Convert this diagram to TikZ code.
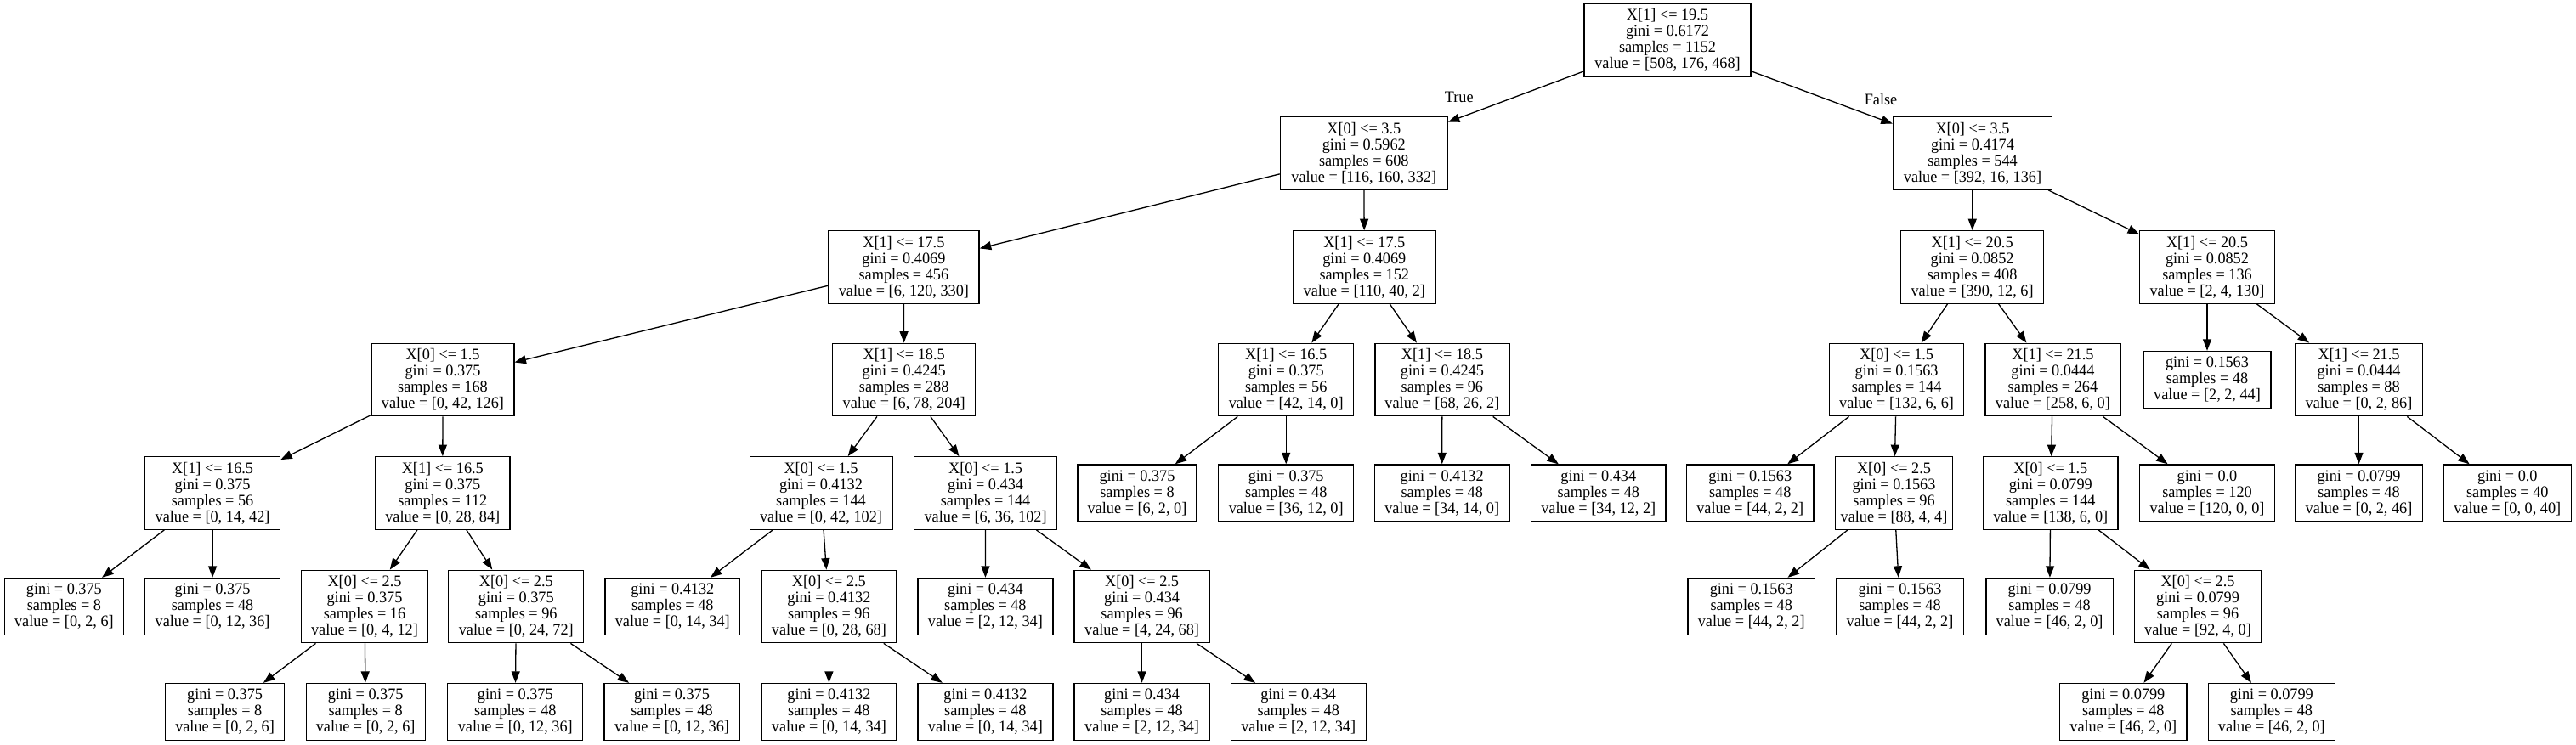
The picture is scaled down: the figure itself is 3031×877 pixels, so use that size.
\documentclass[tikz,border=0pt]{standalone}
\usepackage{fontspec}
\setmainfont{Liberation Serif}[FakeStretch=0.96]
\usetikzlibrary{arrows.meta}
\tikzset{
  tn/.style={draw=black, line width=1.3pt, rectangle, inner sep=0pt, align=center,
    minimum height=85.5pt, font=\fontsize{19}{19}\selectfont},
  lf/.style={tn, minimum height=67pt},
  conn/.style={-{Triangle[length=13.5pt,width=10pt]}, line width=1.3pt},
  lbl/.style={inner sep=0pt, font=\fontsize{19}{19}\selectfont}
}
\begin{document}
\begin{tikzpicture}[x=1pt,y=-1pt]
\useasboundingbox[fill=white] (0,0) rectangle (3031,877);
% row 0
\node[tn, minimum width=196pt] (root) at (1962,47.3) {X[1] <= 19.5\\gini = 0.6172\\samples = 1152\\value = [508, 176, 468]};
% row 1
\node[tn, minimum width=196.8pt] (A) at (1604.8,180.5) {X[0] <= 3.5\\gini = 0.5962\\samples = 608\\value = [116, 160, 332]};
\node[tn, minimum width=187pt] (B) at (2321,180.5) {X[0] <= 3.5\\gini = 0.4174\\samples = 544\\value = [392, 16, 136]};
% row 2
\node[tn, minimum width=177.4pt] (C) at (1063.4,314.5) {X[1] <= 17.5\\gini = 0.4069\\samples = 456\\value = [6, 120, 330]};
\node[tn, minimum width=167.7pt] (D) at (1605.3,314.5) {X[1] <= 17.5\\gini = 0.4069\\samples = 152\\value = [110, 40, 2]};
\node[tn, minimum width=168.4pt] (E) at (2320.6,314.5) {X[1] <= 20.5\\gini = 0.0852\\samples = 408\\value = [390, 12, 6]};
\node[tn, minimum width=158.5pt] (F) at (2597,314.5) {X[1] <= 20.5\\gini = 0.0852\\samples = 136\\value = [2, 4, 130]};
% row 3
\node[tn, minimum width=167.7pt] (G) at (521,447) {X[0] <= 1.5\\gini = 0.375\\samples = 168\\value = [0, 42, 126]};
\node[tn, minimum width=168pt] (H) at (1063.7,447) {X[1] <= 18.5\\gini = 0.4245\\samples = 288\\value = [6, 78, 204]};
\node[tn, minimum width=159pt] (I) at (1513.2,447) {X[1] <= 16.5\\gini = 0.375\\samples = 56\\value = [42, 14, 0]};
\node[tn, minimum width=158pt] (J) at (1696.9,447) {X[1] <= 18.5\\gini = 0.4245\\samples = 96\\value = [68, 26, 2]};
\node[tn, minimum width=158.2pt] (K) at (2231.6,447) {X[0] <= 1.5\\gini = 0.1563\\samples = 144\\value = [132, 6, 6]};
\node[tn, minimum width=159pt] (L) at (2415.4,447) {X[1] <= 21.5\\gini = 0.0444\\samples = 264\\value = [258, 6, 0]};
\node[lf, minimum width=149.7pt] (M) at (2597,447) {gini = 0.1563\\samples = 48\\value = [2, 2, 44]};
\node[tn, minimum width=149.3pt] (N) at (2775.5,447) {X[1] <= 21.5\\gini = 0.0444\\samples = 88\\value = [0, 2, 86]};
% row 4
\node[tn, minimum width=159pt] (O) at (250.1,580.5) {X[1] <= 16.5\\gini = 0.375\\samples = 56\\value = [0, 14, 42]};
\node[tn, minimum width=158.5pt] (P) at (520.8,580.5) {X[1] <= 16.5\\gini = 0.375\\samples = 112\\value = [0, 28, 84]};
\node[tn, minimum width=167.7pt] (Q) at (966,580.5) {X[0] <= 1.5\\gini = 0.4132\\samples = 144\\value = [0, 42, 102]};
\node[tn, minimum width=168.2pt] (R) at (1159.6,580.5) {X[0] <= 1.5\\gini = 0.434\\samples = 144\\value = [6, 36, 102]};
\node[lf, minimum width=140pt] (S) at (1338,580.5) {gini = 0.375\\samples = 8\\value = [6, 2, 0]};
\node[lf, minimum width=159pt] (T) at (1513.2,580.5) {gini = 0.375\\samples = 48\\value = [36, 12, 0]};
\node[lf, minimum width=158.5pt] (U) at (1696.7,580.5) {gini = 0.4132\\samples = 48\\value = [34, 14, 0]};
\node[lf, minimum width=158.5pt] (V) at (1880.8,580.5) {gini = 0.434\\samples = 48\\value = [34, 12, 2]};
\node[lf, minimum width=149.8pt] (W) at (2059.2,580.5) {gini = 0.1563\\samples = 48\\value = [44, 2, 2]};
\node[tn, minimum width=138.4pt] (Xb) at (2228.5,580.5) {X[0] <= 2.5\\gini = 0.1563\\samples = 96\\value = [88, 4, 4]};
\node[tn, minimum width=158.5pt] (Y) at (2412.8,580.5) {X[0] <= 1.5\\gini = 0.0799\\samples = 144\\value = [138, 6, 0]};
\node[lf, minimum width=158.5pt] (Z) at (2597,580.5) {gini = 0.0\\samples = 120\\value = [120, 0, 0]};
\node[lf, minimum width=149.3pt] (AA) at (2775.5,580.5) {gini = 0.0799\\samples = 48\\value = [0, 2, 46]};
\node[lf, minimum width=149.8pt] (AB) at (2950.3,580.5) {gini = 0.0\\samples = 40\\value = [0, 0, 40]};
% row 5
\node[lf, minimum width=140pt] (l5a) at (75.4,714) {gini = 0.375\\samples = 8\\value = [0, 2, 6]};
\node[lf, minimum width=159pt] (l5b) at (250.1,714) {gini = 0.375\\samples = 48\\value = [0, 12, 36]};
\node[tn, minimum width=149.3pt] (X5c) at (429,714) {X[0] <= 2.5\\gini = 0.375\\samples = 16\\value = [0, 4, 12]};
\node[tn, minimum width=159pt] (X5d) at (607.3,714) {X[0] <= 2.5\\gini = 0.375\\samples = 96\\value = [0, 24, 72]};
\node[lf, minimum width=158.5pt] (l5e) at (791.3,714) {gini = 0.4132\\samples = 48\\value = [0, 14, 34]};
\node[tn, minimum width=158.5pt] (X5f) at (975.4,714) {X[0] <= 2.5\\gini = 0.4132\\samples = 96\\value = [0, 28, 68]};
\node[lf, minimum width=159pt] (l5g) at (1159.4,714) {gini = 0.434\\samples = 48\\value = [2, 12, 34]};
\node[tn, minimum width=159pt] (X5h) at (1343.6,714) {X[0] <= 2.5\\gini = 0.434\\samples = 96\\value = [4, 24, 68]};
\node[lf, minimum width=149.7pt] (l5i) at (2060.7,714) {gini = 0.1563\\samples = 48\\value = [44, 2, 2]};
\node[lf, minimum width=150.4pt] (l5j) at (2235.5,714) {gini = 0.1563\\samples = 48\\value = [44, 2, 2]};
\node[lf, minimum width=149.3pt] (l5k) at (2411.6,714) {gini = 0.0799\\samples = 48\\value = [46, 2, 0]};
\node[tn, minimum width=149.3pt] (X5l) at (2586,714) {X[0] <= 2.5\\gini = 0.0799\\samples = 96\\value = [92, 4, 0]};
% row 6
\node[lf, minimum width=139.6pt] (l6a) at (264.6,838) {gini = 0.375\\samples = 8\\value = [0, 2, 6]};
\node[lf, minimum width=140pt] (l6b) at (430.2,838) {gini = 0.375\\samples = 8\\value = [0, 2, 6]};
\node[lf, minimum width=159pt] (l6c) at (606.3,838) {gini = 0.375\\samples = 48\\value = [0, 12, 36]};
\node[lf, minimum width=159pt] (l6d) at (790.5,838) {gini = 0.375\\samples = 48\\value = [0, 12, 36]};
\node[lf, minimum width=158.5pt] (l6e) at (975.4,838) {gini = 0.4132\\samples = 48\\value = [0, 14, 34]};
\node[lf, minimum width=159pt] (l6f) at (1159.4,838) {gini = 0.4132\\samples = 48\\value = [0, 14, 34]};
\node[lf, minimum width=159pt] (l6g) at (1343.6,838) {gini = 0.434\\samples = 48\\value = [2, 12, 34]};
\node[lf, minimum width=159pt] (l6h) at (1527.7,838) {gini = 0.434\\samples = 48\\value = [2, 12, 34]};
\node[lf, minimum width=149.3pt] (l6i) at (2498.3,838) {gini = 0.0799\\samples = 48\\value = [46, 2, 0]};
\node[lf, minimum width=149.2pt] (l6j) at (2672.8,838) {gini = 0.0799\\samples = 48\\value = [46, 2, 0]};
% labels
\node[lbl] (ltrue) at (1716.7,114.5) {True};
\node[lbl] (lfalse) at (2213,116.7) {False};
% edges
\foreach \a/\b in {root/A,root/B,A/C,A/D,C/G,C/H,G/O,G/P,O/l5a,O/l5b,P/X5c,P/X5d,
  X5c/l6a,X5c/l6b,X5d/l6c,X5d/l6d,H/Q,H/R,Q/l5e,Q/X5f,X5f/l6e,X5f/l6f,R/l5g,R/X5h,
  X5h/l6g,X5h/l6h,D/I,D/J,I/S,I/T,J/U,J/V,B/E,B/F,E/K,E/L,K/W,K/Xb,Xb/l5i,Xb/l5j,
  L/Y,L/Z,Y/l5k,Y/X5l,X5l/l6i,X5l/l6j,F/M,F/N,N/AA,N/AB}
  \draw[conn] (\a) -- (\b);
\end{tikzpicture}
\end{document}
